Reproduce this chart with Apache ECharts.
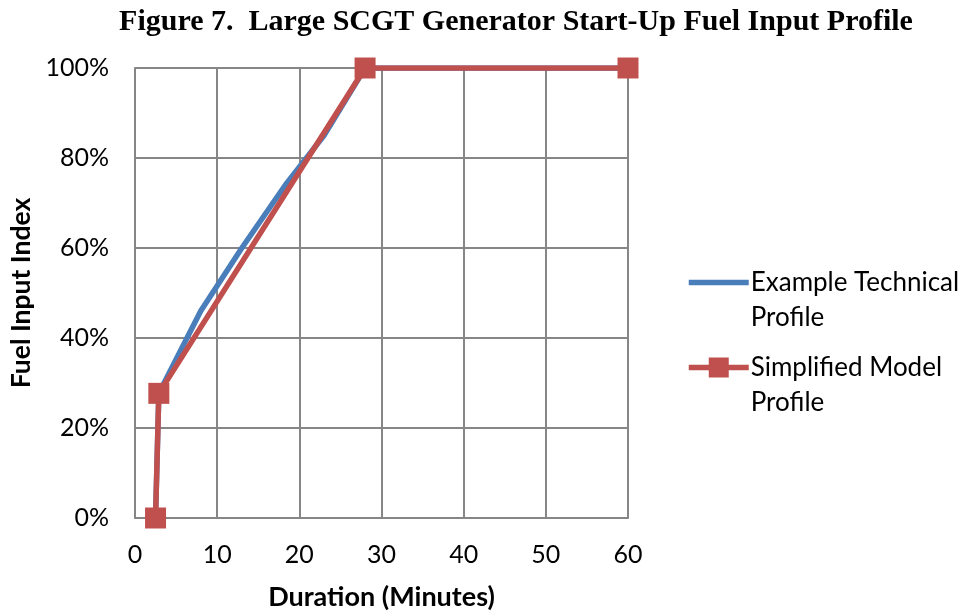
<!DOCTYPE html>
<html>
<head>
<meta charset="utf-8">
<script src="https://cdn.jsdelivr.net/npm/echarts@6/dist/echarts.min.js"></script>
<style>
  html, body { margin: 0; padding: 0; background: #fff; }
  #main { width: 964px; height: 611px; }
</style>
</head>
<body>
<div id="main"></div>
<script>
// duration in minutes, fuel input index in %
const technicalX = [2.5, 2.9, 8, 13, 18.3, 23, 28, 60];
const technicalY = [0, 27.7, 46, 60, 74, 85, 100, 100];
const simplifiedX = [2.5, 2.9, 28, 60];
const simplifiedY = [0, 27.7, 100, 100];
const xTicks = [0, 10, 20, 30, 40, 50, 60];
const yTicks = [0, 20, 40, 60, 80, 100];

const font = 'Lato, "Open Sans", sans-serif';
const chart = echarts.init(document.getElementById('main'));

chart.setOption({
  animation: false,
  title: {
    text: 'Figure 7.  Large SCGT Generator Start-Up Fuel Input Profile',
    left: 511,
    textAlign: 'center',
    top: 2,
    textStyle: { fontFamily: '"Liberation Serif", serif', fontWeight: 'bold', fontSize: 30, color: '#000' }
  },
  grid: { left: 135, right: 336, top: 68, bottom: 93, outerBoundsMode: 'none' },
  legend: {
    orient: 'vertical',
    left: 686,
    top: 230,
    padding: 0,
    itemWidth: 60,
    itemHeight: 25,
    itemGap: -20,
    data: [
      { name: 'Example Technical Profile', itemStyle: { color: 'rgba(0,0,0,0)', borderWidth: 0 } },
      { name: 'Simplified Model Profile' }
    ],
    lineStyle: { width: 5.5 },
    // blank first line keeps the icon level with the first text line
    formatter: n => ' \n' + n.replace(/ Profile$/, '\nProfile'),
    textStyle: { fontFamily: font, fontSize: 26, color: '#000', lineHeight: 35, padding: [0, 0, 0, -3] }
  },
  xAxis: {
    type: 'value',
    min: xTicks[0],
    max: xTicks[xTicks.length - 1],
    interval: 10,
    name: 'Duration (Minutes)',
    nameLocation: 'middle',
    nameGap: 66,
    nameTextStyle: { fontFamily: font, fontWeight: 'bold', fontSize: 27, color: '#000' },
    axisLine: { show: true, lineStyle: { color: '#868686', width: 2 } },
    axisTick: { show: false },
    axisLabel: { fontFamily: font, fontSize: 25, color: '#000', margin: 24 },
    splitLine: { show: true, lineStyle: { color: '#868686', width: 2 } }
  },
  yAxis: {
    type: 'value',
    min: yTicks[0],
    max: yTicks[yTicks.length - 1],
    interval: 20,
    name: 'Fuel Input Index',
    nameLocation: 'middle',
    nameGap: 100,
    nameTextStyle: { fontFamily: font, fontWeight: 'bold', fontSize: 26.5, color: '#000' },
    axisLine: { show: true, lineStyle: { color: '#868686', width: 2 } },
    axisTick: { show: false },
    axisLabel: { fontFamily: font, fontSize: 25, color: '#000', margin: 26, formatter: '{value}%' },
    splitLine: { show: true, lineStyle: { color: '#868686', width: 2 } }
  },
  series: [
    {
      name: 'Example Technical Profile',
      type: 'line',
      data: technicalX.map((x, i) => [x, technicalY[i]]),
      showSymbol: false,
      symbol: 'none',
      lineStyle: { color: '#4A7EBB', width: 5.5 },
      itemStyle: { color: '#4A7EBB' }
    },
    {
      name: 'Simplified Model Profile',
      type: 'line',
      data: simplifiedX.map((x, i) => [x, simplifiedY[i]]),
      symbol: 'rect',
      symbolSize: 21,
      lineStyle: { color: '#C0504D', width: 5.5 },
      itemStyle: { color: '#C0504D' }
    }
  ]
});
</script>
</body>
</html>
